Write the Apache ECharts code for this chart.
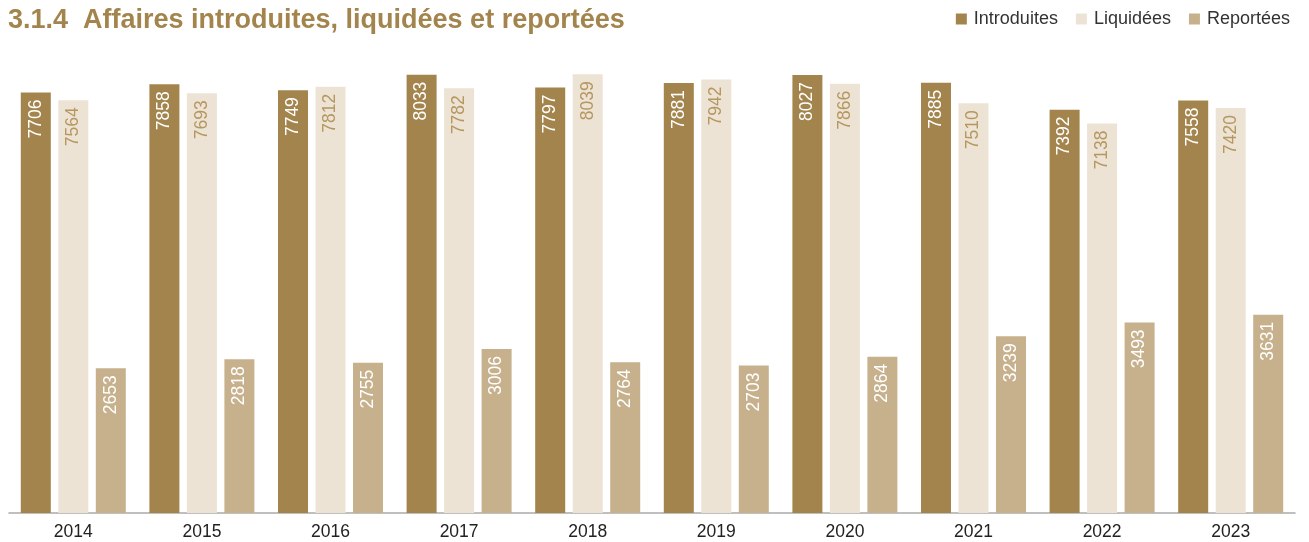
<!DOCTYPE html>
<html>
<head>
<meta charset="utf-8">
<script src="https://cdn.jsdelivr.net/npm/echarts@6/dist/echarts.min.js"></script>
<style>
  html, body { margin: 0; padding: 0; background: #fff; }
  #chart { width: 1309px; height: 542px; }
</style>
</head>
<body>
<div id="chart"></div>
<script>
const years = ['2014', '2015', '2016', '2017', '2018', '2019', '2020', '2021', '2022', '2023'];
const introduites = [7706, 7858, 7749, 8033, 7797, 7881, 8027, 7885, 7392, 7558];
const liquidees = [7564, 7693, 7812, 7782, 8039, 7942, 7866, 7510, 7138, 7420];
const reportees = [2653, 2818, 2755, 3006, 2764, 2703, 2864, 3239, 3493, 3631];

const labelStyle = (color) => ({
  show: true,
  position: 'insideTop',
  rotate: 90,
  align: 'right',
  verticalAlign: 'middle',
  distance: 7,
  color: color,
  fontSize: 17.5,
  fontFamily: 'Liberation Sans, Arial, sans-serif'
});

const getOption = () => {
  return {
    animation: false,
    title: {
      text: '3.1.4  Affaires introduites, liquidées et reportées',
      left: 3,
      top: 2,
      textStyle: {
        color: '#A3844C',
        fontSize: 27,
        fontWeight: 'bold',
        fontFamily: 'Liberation Sans, Arial, sans-serif'
      }
    },
    legend: {
      right: 14,
      top: 5,
      itemWidth: 11,
      itemHeight: 11,
      itemGap: 18,
      icon: 'rect',
      textStyle: {
        color: '#333',
        fontSize: 18,
        padding: [0, 0, 0, 2],
        fontFamily: 'Liberation Sans, Arial, sans-serif'
      },
      data: ['Introduites', 'Liquidées', 'Reportées']
    },
    grid: {
      left: 9,
      right: 14,
      top: 71,
      bottom: 29,
      containLabel: false
    },
    xAxis: {
      type: 'category',
      data: years,
      axisLine: { lineStyle: { color: '#aaa', width: 1.5 } },
      axisTick: { show: false },
      axisLabel: {
        color: '#222',
        fontSize: 17.5,
        margin: 10,
        fontFamily: 'Liberation Sans, Arial, sans-serif'
      }
    },
    yAxis: {
      type: 'value',
      min: 0,
      max: 8100,
      show: false,
      splitLine: { show: false }
    },
    series: [
      {
        name: 'Introduites',
        type: 'bar',
        data: introduites,
        barWidth: 30,
        barGap: '25%',
        itemStyle: { color: '#A3844C' },
        label: labelStyle('#fff')
      },
      {
        name: 'Liquidées',
        type: 'bar',
        data: liquidees,
        barWidth: 30,
        barGap: '25%',
        itemStyle: { color: '#EDE3D5' },
        label: labelStyle('#B5975F')
      },
      {
        name: 'Reportées',
        type: 'bar',
        data: reportees,
        barWidth: 30,
        barGap: '25%',
        itemStyle: { color: '#C7B18D' },
        label: labelStyle('#fff')
      }
    ]
  };
};

window.addEventListener('load', () => {
  const chart = echarts.init(document.getElementById('chart'));
  chart.setOption(getOption());
});
</script>
</body>
</html>
